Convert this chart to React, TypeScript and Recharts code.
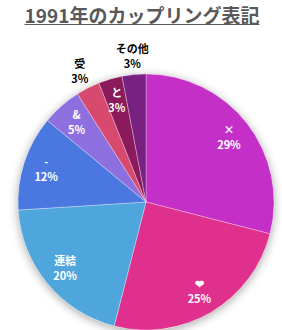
import { PieChart, Pie, Cell } from "recharts"

const categories = ["×", "❤", "連結", "-", "&", "受", "と", "その他"]
const shares = [29, 25, 20, 12, 5, 3, 3, 3]
const colors = ["#c42fc8", "#e0308d", "#4ea6dc", "#4a77e0", "#8d6fe0", "#d8496f", "#8a1a5c", "#782180"]
// small slices whose labels sit outside the pie
const outsideLabels = ["受", "その他"]

const chartData = categories.map((name, i) => ({ name, value: shares[i] }))

const RADIAN = Math.PI / 180

function renderLabel(props: any) {
  const { cx, cy, midAngle, outerRadius, index } = props
  const entry = chartData[index]
  const outside = outsideLabels.includes(entry.name)
  const r = outside ? outerRadius + 18 : outerRadius * 0.82
  const x = cx + r * Math.cos(-midAngle * RADIAN)
  const y = cy + r * Math.sin(-midAngle * RADIAN)
  const fill = outside ? "#000000" : "#ffffff"
  return (
    <text
      x={x}
      y={y}
      textAnchor="middle"
      fill={fill}
      fontSize={11}
      fontWeight="bold"
      fontFamily="'Noto Sans CJK JP', 'Noto Sans', sans-serif"
    >
      <tspan x={x} dy={-4}>{entry.name}</tspan>
      <tspan x={x} dy={15}>{`${entry.value}%`}</tspan>
    </text>
  )
}

export default function App() {
  return (
    <div style={{ position: "absolute", left: 0, top: 0, width: 282, height: 330, background: "#ffffff" }}>
      <div
        style={{
          position: "absolute",
          left: 0,
          top: 2,
          width: 284,
          textAlign: "center",
          fontFamily: "'Noto Sans CJK JP', sans-serif",
          fontWeight: "bold",
          fontSize: 19,
          color: "#595959",
          textDecoration: "underline",
          lineHeight: "26px",
        }}
      >
        1991年のカップリング表記
      </div>
      <div style={{ position: "absolute", left: 0, top: 0 }}>
        <PieChart width={282} height={330}>
          <Pie
            data={[{ value: 1 }]}
            dataKey="value"
            cx={141}
            cy={197}
            outerRadius={128}
            stroke="none"
            fill="#ffffff"
            style={{ filter: "drop-shadow(0px 2px 5px rgba(0,0,0,0.35))" }}
            isAnimationActive={false}
          />
          <Pie
            data={chartData}
            dataKey="value"
            nameKey="name"
            cx={141}
            cy={197}
            outerRadius={128}
            startAngle={90}
            endAngle={-270}
            stroke="#ffffff"
            strokeWidth={0.3}
            label={renderLabel}
            labelLine={false}
            isAnimationActive={false}
          >
            {chartData.map((d, i) => (
              <Cell key={d.name} fill={colors[i]} />
            ))}
          </Pie>
        </PieChart>
      </div>
    </div>
  )
}
